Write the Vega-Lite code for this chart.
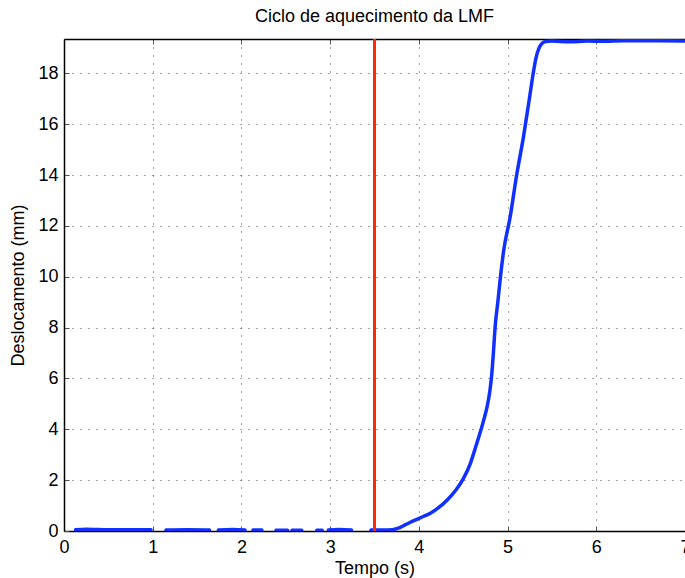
{
  "$schema": "https://vega.github.io/schema/vega-lite/v6.json",
  "width": 621,
  "height": 492,
  "autosize": {"type": "none"},
  "padding": {"left": 64, "top": 39, "right": 0, "bottom": 47},
  "background": "white",
  "config": {
    "view": {"stroke": null},
    "font": "Liberation Sans",
    "axis": {
      "labelFont": "Liberation Sans",
      "titleFont": "Liberation Sans",
      "labelFontSize": 18,
      "titleFontSize": 18,
      "titleFontWeight": "normal",
      "labelColor": "#000",
      "titleColor": "#000",
      "domainColor": "#000",
      "domainWidth": 1.5,
      "tickColor": "#555",
      "tickWidth": 1,
      "tickSize": -5,
      "gridColor": "#222",
      "gridDash": [1, 7],
      "gridWidth": 1,
      "gridOpacity": 0.8
    }
  },
  "title": {
    "text": "Ciclo de aquecimento da LMF",
    "font": "Liberation Sans",
    "fontSize": 18,
    "fontWeight": "normal",
    "color": "#000",
    "offset": 12
  },
  "layer": [
    {
      "data": {
        "values": [
          {"seg": 1, "t": 0.13, "d": 0.05}, {"seg": 1, "t": 0.25, "d": 0.07}, {"seg": 1, "t": 0.5, "d": 0.05}, {"seg": 1, "t": 0.75, "d": 0.05}, {"seg": 1, "t": 0.98, "d": 0.05},
          {"seg": 2, "t": 1.15, "d": 0.04}, {"seg": 2, "t": 1.4, "d": 0.05}, {"seg": 2, "t": 1.64, "d": 0.04},
          {"seg": 3, "t": 1.74, "d": 0.04}, {"seg": 3, "t": 1.9, "d": 0.06}, {"seg": 3, "t": 2.04, "d": 0.04},
          {"seg": 4, "t": 2.13, "d": 0.04}, {"seg": 4, "t": 2.23, "d": 0.04},
          {"seg": 5, "t": 2.39, "d": 0.03}, {"seg": 5, "t": 2.52, "d": 0.03},
          {"seg": 6, "t": 2.57, "d": 0.03}, {"seg": 6, "t": 2.68, "d": 0.03},
          {"seg": 7, "t": 2.85, "d": 0.03}, {"seg": 7, "t": 2.91, "d": 0.03},
          {"seg": 8, "t": 2.98, "d": 0.04}, {"seg": 8, "t": 3.1, "d": 0.06}, {"seg": 8, "t": 3.24, "d": 0.04},
          {"seg": 9, "t": 3.46, "d": 0.04}, {"seg": 9, "t": 3.6, "d": 0.04}, {"seg": 9, "t": 3.7, "d": 0.05},
          {"seg": 9, "t": 3.76, "d": 0.1}, {"seg": 9, "t": 3.85, "d": 0.25}, {"seg": 9, "t": 3.95, "d": 0.42},
          {"seg": 9, "t": 4.05, "d": 0.57}, {"seg": 9, "t": 4.13, "d": 0.7}, {"seg": 9, "t": 4.2, "d": 0.86},
          {"seg": 9, "t": 4.32, "d": 1.22}, {"seg": 9, "t": 4.42, "d": 1.62}, {"seg": 9, "t": 4.5, "d": 2.05},
          {"seg": 9, "t": 4.58, "d": 2.65}, {"seg": 9, "t": 4.63, "d": 3.19}, {"seg": 9, "t": 4.69, "d": 3.86},
          {"seg": 9, "t": 4.73, "d": 4.35}, {"seg": 9, "t": 4.77, "d": 4.9}, {"seg": 9, "t": 4.8, "d": 5.5},
          {"seg": 9, "t": 4.82, "d": 6.1}, {"seg": 9, "t": 4.84, "d": 7.0}, {"seg": 9, "t": 4.86, "d": 8.04},
          {"seg": 9, "t": 4.89, "d": 9.0}, {"seg": 9, "t": 4.92, "d": 10.0}, {"seg": 9, "t": 4.955, "d": 11.0},
          {"seg": 9, "t": 5.03, "d": 12.37}, {"seg": 9, "t": 5.1, "d": 13.95}, {"seg": 9, "t": 5.18, "d": 15.52},
          {"seg": 9, "t": 5.25, "d": 17.1}, {"seg": 9, "t": 5.29, "d": 18.02}, {"seg": 9, "t": 5.32, "d": 18.6},
          {"seg": 9, "t": 5.35, "d": 18.95}, {"seg": 9, "t": 5.39, "d": 19.18}, {"seg": 9, "t": 5.43, "d": 19.25},
          {"seg": 9, "t": 5.5, "d": 19.27}, {"seg": 9, "t": 5.7, "d": 19.24}, {"seg": 9, "t": 5.9, "d": 19.27},
          {"seg": 9, "t": 6.1, "d": 19.26}, {"seg": 9, "t": 6.3, "d": 19.28}, {"seg": 9, "t": 6.6, "d": 19.28},
          {"seg": 9, "t": 7.0, "d": 19.27}
        ]
      },
      "mark": {"type": "line", "color": "#1030ff", "strokeWidth": 3.5, "strokeCap": "round", "strokeJoin": "round", "interpolate": "monotone", "clip": true},
      "encoding": {
        "x": {
          "field": "t", "type": "quantitative",
          "scale": {"domain": [0, 7], "nice": false, "zero": false},
          "axis": {"title": "Tempo (s)", "values": [0, 1, 2, 3, 4, 5, 6, 7], "labelPadding": 12, "titlePadding": 3, "grid": true, "labelFlush": false}
        },
        "y": {
          "field": "d", "type": "quantitative",
          "scale": {"domain": [0, 19.35], "nice": false},
          "axis": {"title": "Deslocamento (mm)", "values": [0, 2, 4, 6, 8, 10, 12, 14, 16, 18], "labelPadding": 11, "titlePadding": 10, "grid": true}
        },
        "detail": {"field": "seg", "type": "nominal"}
      }
    },
    {
      "data": {"values": [{"t": 3.5}]},
      "mark": {"type": "rule", "color": "#ff2a00", "strokeWidth": 3},
      "encoding": {
        "x": {
          "field": "t", "type": "quantitative",
          "axis": {"orient": "top", "title": null, "labels": false, "grid": false, "values": [0, 1, 2, 3, 4, 5, 6, 7]}
        }
      }
    }
  ],
  "resolve": {"axis": {"x": "independent"}}
}
